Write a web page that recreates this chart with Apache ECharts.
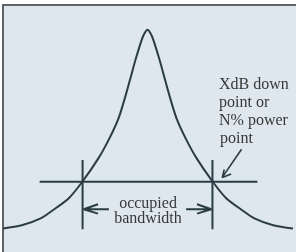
<!DOCTYPE html>
<html>
<head>
<meta charset="utf-8">
<script src="https://cdn.jsdelivr.net/npm/echarts@6/dist/echarts.min.js"></script>
<style>html,body{margin:0;padding:0;background:#fff;}#c{width:296px;height:252px;}</style>
</head>
<body>
<div id="c"></div>
<script>
// Spectrum curve: frequency offset from centre, level (relative units)
const curveFreq  = [-146,-127,-108,-96,-79,-65.6,-49.5,-38.5,-29.4,-23.1,-17.5,-12,-5.8,-3,0,3,5.8,12,17.5,23.1,29.4,38.5,49.5,65.6,79,96,108,127,147];
const curveLevel = [23.8,27,34,42,55,71.5,95,115,135,155,175,195,215,221.5,225,221.5,215,195,175,155,135,115,95,71.5,55,42,34,27,23.7];
// XdB threshold line
const thresholdFreq  = [-109, 111];
const thresholdLevel = 71;
// occupied bandwidth edges
const edgeFreq = [-65.6, 65.6];
const edgeLevelRange = [23, 93];
// bandwidth arrows
const bwArrowLevel = 43.3;
const bwArrowLeft  = [-39, -64.5];
const bwArrowRight = [39, 64.5];
// pointer arrow toward the down point
const pointerFreq  = [95, 75.5];
const pointerLevel = [104, 75.5];
const labelsBW = ['occupied', 'bandwidth'];
const labelsPoint = ['XdB down', 'point or', 'N% power', 'point'];

const ink = '#2b3c44';
const txt = '#383838';
const font = '16px "Liberation Serif"';
const chart = echarts.init(document.getElementById('c'), null, {renderer:'canvas'});
const thr = thresholdFreq.map(f => [f, thresholdLevel]);
const edges = [];
edgeFreq.forEach(f => { edges.push([f, edgeLevelRange[0]], [f, edgeLevelRange[1]], null); });
const bwArrows = [
  [bwArrowLeft[0], bwArrowLevel], [bwArrowLeft[1], bwArrowLevel], null,
  [bwArrowLeft[1] + 14.5, bwArrowLevel + 5], [bwArrowLeft[1], bwArrowLevel], [bwArrowLeft[1] + 14.5, bwArrowLevel - 4.5], null,
  [bwArrowRight[0], bwArrowLevel], [bwArrowRight[1], bwArrowLevel], null,
  [bwArrowRight[1] - 14.5, bwArrowLevel + 5], [bwArrowRight[1], bwArrowLevel], [bwArrowRight[1] - 14.5, bwArrowLevel - 4.5]
];
const pointer = [
  [pointerFreq[0], pointerLevel[0]], [pointerFreq[1], pointerLevel[1]], null,
  [pointerFreq[1] + 2, pointerLevel[1] + 8], [pointerFreq[1], pointerLevel[1]], [pointerFreq[1] + 9, pointerLevel[1] + 3.5]
];
const common = {type:'line', symbol:'none', silent:true, animation:false, connectNulls:false, z:5};
chart.setOption({
  backgroundColor: '#ffffff',
  animation: false,
  grid: {left:3, top:5, right:-3, bottom:-3, show:false},
  xAxis: {type:'value', min:-146, max:150, show:false},
  yAxis: {type:'value', min:0, max:250, show:false},
  series: [
    Object.assign({}, common, {data: curveFreq.map((f,i)=>[f, curveLevel[i]]), smooth:0.3, lineStyle:{color:ink, width:2}}),
    Object.assign({}, common, {data: thr, lineStyle:{color:ink, width:2}}),
    Object.assign({}, common, {data: edges, lineStyle:{color:ink, width:2}}),
    Object.assign({}, common, {data: bwArrows, lineStyle:{color:ink, width:2}}),
    Object.assign({}, common, {data: pointer, lineStyle:{color:ink, width:1.6}})
  ],
  graphic: [
    {type:'rect', z:-10, silent:true, shape:{x:3, y:5, width:293, height:247}, style:{fill:'#dde7ed'}},
    {type:'line', z:-9, silent:true, shape:{x1:2, y1:5, x2:296, y2:5}, style:{stroke:'#5f6366', lineWidth:2}},
    {type:'line', z:-9, silent:true, shape:{x1:3, y1:4, x2:3, y2:252}, style:{stroke:'#5f6366', lineWidth:2}},
    {type:'text', x:148, y:203.5, style:{text:labelsBW[0], font:font, fill:txt, align:'center', verticalAlign:'middle'}},
    {type:'text', x:148, y:218.5, style:{text:labelsBW[1], font:font, fill:txt, align:'center', verticalAlign:'middle'}},
    {type:'text', x:219, y:84.5, style:{text:labelsPoint[0], font:font, fill:txt, align:'left', verticalAlign:'middle'}},
    {type:'text', x:219, y:102.5, style:{text:labelsPoint[1], font:font, fill:txt, align:'left', verticalAlign:'middle'}},
    {type:'text', x:219, y:120.5, style:{text:labelsPoint[2], font:font, fill:txt, align:'left', verticalAlign:'middle'}},
    {type:'text', x:220, y:138.5, style:{text:labelsPoint[3], font:font, fill:txt, align:'left', verticalAlign:'middle'}}
  ]
});
</script>
</body>
</html>
